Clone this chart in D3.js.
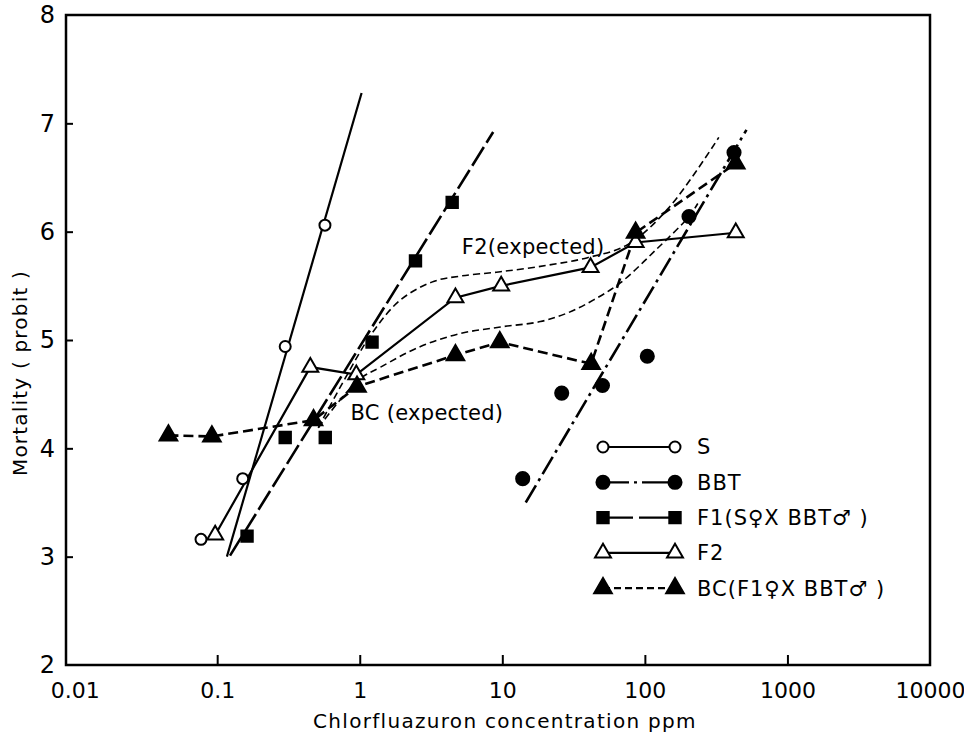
<!DOCTYPE html>
<html>
<head>
    <script src="https://d3js.org/d3.v7.min.js"></script>
</head>

<body style="margin: 0; background-color: white;">

<div id="my_dataviz"></div>

<script>

// ---- data (dose in ppm, mortality in probits) ----
var sDose   = [0.077, 0.151, 0.300, 0.570];
var sProbit = [3.16, 3.72, 4.94, 6.06];
var sFit    = [[0.117, 3.00], [1.03, 7.28]];

var bbtDose   = [13.9, 26.1, 50.4, 104, 204, 422];
var bbtProbit = [3.72, 4.51, 4.58, 4.85, 6.14, 6.73];
var bbtFit    = [[14.6, 3.50], [516, 6.94]];

var f1Dose   = [0.162, 0.300, 0.573, 1.22, 2.46, 4.45];
var f1Probit = [3.19, 4.10, 4.10, 4.98, 5.73, 6.27];
var f1Fit    = [[0.123, 3.01], [8.63, 6.92]];

var f2Dose   = [0.0968, 0.450, 0.946, 4.69, 9.82, 41.6, 86.1, 434];
var f2Probit = [3.20, 4.75, 4.68, 5.39, 5.50, 5.67, 5.90, 5.99];

var bcDose   = [0.0455, 0.0918, 0.474, 0.957, 4.69, 9.6, 42, 86.1, 434];
var bcProbit = [4.12, 4.11, 4.26, 4.57, 4.86, 4.98, 4.78, 5.99, 6.63];

// expected curves (drawn smooth through these points)
var f2ExpDose   = [0.512, 0.793, 1.23, 1.93, 3.29, 5.08, 9.7, 20.7, 39.6, 75.7, 147, 330];
var f2ExpProbit = [4.19, 4.65, 5.07, 5.37, 5.54, 5.59, 5.63, 5.69, 5.76, 5.88, 6.22, 6.87];
var bcExpDose   = [0.512, 0.978, 1.40, 2.67, 5.08, 9.7, 18.5, 28.7, 43.7, 67.6, 119, 204, 235];
var bcExpProbit = [4.19, 4.63, 4.75, 4.94, 5.06, 5.12, 5.17, 5.25, 5.37, 5.53, 5.83, 6.14, 6.26];

var xTicks = [0.01, 0.1, 1, 10, 100, 1000, 10000];
var xTickLabels = ["0.01", "0.1", "1", "10", "100", "1000", "10000"];
var yTicks = [2, 3, 4, 5, 6, 7, 8];

var legendLabels = ["S", "BBT", "F1(S\u2640X BBT\u2642 )", "F2", "BC(F1\u2640X BBT\u2642 )"];

// ---- layout ----
var width = 964, height = 736;
var margin = {top: 15, right: 34, bottom: 71, left: 66};
var font = "'DejaVu Sans', Arial, sans-serif";

var svg = d3.select("#my_dataviz")
  .append("svg")
    .attr("width", width)
    .attr("height", height)
    .style("display", "block");

var x = d3.scaleLog()
    .domain([0.0087, 10000])
    .range([margin.left, width - margin.right]);

var y = d3.scaleLinear()
    .domain([2, 8])
    .range([height - margin.bottom, margin.top]);

// frame
svg.append("rect")
    .attr("x", margin.left)
    .attr("y", margin.top)
    .attr("width", width - margin.left - margin.right)
    .attr("height", height - margin.top - margin.bottom)
    .attr("fill", "none")
    .attr("stroke", "black")
    .attr("stroke-width", 2.5);

// X axis, ticks point inwards
var xAxis = svg.append("g")
    .attr("transform", "translate(0," + (height - margin.bottom) + ")")
    .call(d3.axisBottom(x)
        .tickValues(xTicks)
        .tickFormat(function(d, i) { return xTickLabels[i]; })
        .tickSizeInner(-10)
        .tickSizeOuter(0)
        .tickPadding(17));
xAxis.select(".domain").remove();
xAxis.selectAll(".tick line")
    .attr("stroke-width", 2)
    .attr("opacity", function(d) { return (d == 0.01 || d == 10000) ? 0 : 1; });
xAxis.selectAll("text")
    .attr("font-family", font)
    .attr("font-size", 22)
    .attr("fill", "black");

// Y axis
var yAxis = svg.append("g")
    .attr("transform", "translate(" + margin.left + ",0)")
    .call(d3.axisLeft(y)
        .tickValues(yTicks)
        .tickFormat(d3.format("d"))
        .tickSizeInner(-7)
        .tickSizeOuter(0)
        .tickPadding(11));
yAxis.select(".domain").remove();
yAxis.selectAll(".tick line")
    .attr("stroke-width", 2)
    .attr("opacity", function(d) { return (d == 2 || d == 8) ? 0 : 1; });
yAxis.selectAll("text")
    .attr("font-family", font)
    .attr("font-size", 24)
    .attr("fill", "black");

// axis titles
svg.append("text")
    .attr("x", (margin.left + width - margin.right) / 2 + 7)
    .attr("y", height - 8)
    .attr("text-anchor", "middle")
    .attr("font-family", font)
    .attr("font-size", 20)
    .attr("letter-spacing", 1.3)
    .text("Chlorfluazuron  concentration  ppm");

svg.append("text")
    .attr("transform", "translate(27," + (y(5) + 33) + ") rotate(-90)")
    .attr("text-anchor", "middle")
    .attr("font-family", font)
    .attr("font-size", 20)
    .attr("letter-spacing", 1.2)
    .text("Mortality ( probit )");

// ---- lines ----
var line = d3.line()
    .x(function(d) { return x(d[0]); })
    .y(function(d) { return y(d[1]); });

var smooth = d3.line()
    .curve(d3.curveCatmullRom.alpha(0.5))
    .x(function(d) { return x(d[0]); })
    .y(function(d) { return y(d[1]); });

function pairs(xs, ys) { return xs.map(function(v, i) { return [v, ys[i]]; }); }

function drawPath(gen, pts, dash, w) {
  svg.append("path")
      .datum(pts)
      .attr("d", gen)
      .attr("fill", "none")
      .attr("stroke", "black")
      .attr("stroke-width", w)
      .attr("stroke-dasharray", dash);
}

// expected curves (thin dashed)
drawPath(smooth, pairs(f2ExpDose, f2ExpProbit), "7,4", 1.6);
drawPath(smooth, pairs(bcExpDose, bcExpProbit), "7,4", 1.6);

// fitted lines
drawPath(line, sFit, null, 2.2);
drawPath(line, bbtFit, "20,5,3,5", 2.6);
drawPath(line, f1Fit, "22,5", 2.6);

// connected series
drawPath(line, pairs(f2Dose, f2Probit), null, 2.2);
drawPath(line, pairs(bcDose, bcProbit), "10,5", 2.6);

// ---- markers ----
var markerStyle = {
  S:   {type: d3.symbolCircle,   size: 95,  fill: "white"},
  BBT: {type: d3.symbolCircle,   size: 135, fill: "black"},
  F1:  {type: d3.symbolSquare,   size: 130, fill: "black"},
  F2:  {type: d3.symbolTriangle, size: 110, fill: "white"},
  BC:  {type: d3.symbolTriangle, size: 135, fill: "black"}
};

function drawMarkers(key, xs, ys) {
  var m = markerStyle[key];
  svg.append("g")
    .selectAll("path")
    .data(pairs(xs, ys))
    .enter().append("path")
      .attr("transform", function(d) { return "translate(" + x(d[0]) + "," + y(d[1]) + ")"; })
      .attr("d", d3.symbol().type(m.type).size(m.size))
      .attr("fill", m.fill)
      .attr("stroke", "black")
      .attr("stroke-width", 2);
}

drawMarkers("S", sDose, sProbit);
drawMarkers("BBT", bbtDose, bbtProbit);
drawMarkers("F1", f1Dose, f1Probit);
drawMarkers("F2", f2Dose, f2Probit);
drawMarkers("BC", bcDose, bcProbit);

// annotations
svg.append("text")
    .attr("x", x(5.2)).attr("y", y(5.79))
    .attr("font-family", font).attr("font-size", 21)
    .attr("letter-spacing", 0.3)
    .text("F2(expected)");
svg.append("text")
    .attr("x", x(0.86)).attr("y", y(4.26))
    .attr("font-family", font).attr("font-size", 21)
    .attr("letter-spacing", 0.3)
    .text("BC (expected)");

// ---- legend ----
var legendKeys = ["S", "BBT", "F1", "F2", "BC"];
var legendDash = [null, "26,5,3,5", "30,6", null, "7,4"];
var lx0 = 603, lx1 = 675, ly0 = 447, lstep = 35.3;

legendKeys.forEach(function(key, i) {
  var ly = ly0 + i * lstep;
  var m = markerStyle[key];
  svg.append("line")
      .attr("x1", lx0).attr("x2", lx1)
      .attr("y1", ly).attr("y2", ly)
      .attr("stroke", "black")
      .attr("stroke-width", 2.2)
      .attr("stroke-dasharray", legendDash[i]);
  [lx0, lx1].forEach(function(px) {
    svg.append("path")
        .attr("transform", "translate(" + px + "," + ly + ")")
        .attr("d", d3.symbol().type(m.type).size(m.size))
        .attr("fill", m.fill)
        .attr("stroke", "black")
        .attr("stroke-width", 2);
  });
  svg.append("text")
      .attr("x", 697).attr("y", ly)
      .attr("dy", "0.35em")
      .attr("font-family", font)
      .attr("font-size", 21)
      .attr("letter-spacing", 1)
      .text(legendLabels[i]);
});

</script>
</body>
</html>
